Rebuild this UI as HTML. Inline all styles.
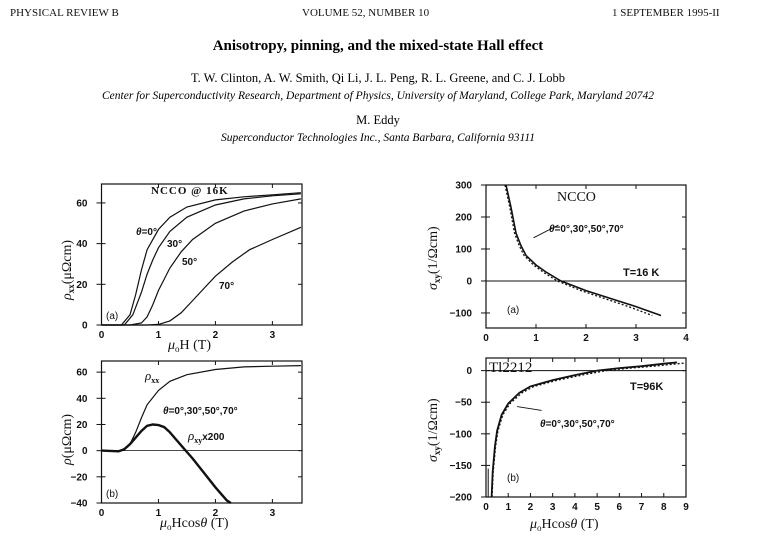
<!DOCTYPE html>
<html><head><meta charset="utf-8"><style>
body{margin:0;background:#fff;}
svg{display:block;font-family:"Liberation Serif",serif;}
.t{font-family:"Liberation Sans",sans-serif;font-size:10px;font-weight:bold;fill:#111;}
</style></head><body>
<svg id="pg" width="780" height="540" viewBox="0 0 780 540">
<g font-size="11" fill="#111">
<text x="10" y="16">PHYSICAL REVIEW B</text>
<text x="302" y="16">VOLUME 52, NUMBER 10</text>
<text x="612" y="16">1 SEPTEMBER 1995-II</text>
</g>
<text x="378" y="50" text-anchor="middle" font-size="15" font-weight="bold">Anisotropy, pinning, and the mixed-state Hall effect</text>
<text x="378" y="82" text-anchor="middle" font-size="12.5">T. W. Clinton, A. W. Smith, Qi Li, J. L. Peng, R. L. Greene, and C. J. Lobb</text>
<text x="378" y="99" text-anchor="middle" font-size="11.5" font-style="italic">Center for Superconductivity Research, Department of Physics, University of Maryland, College Park, Maryland 20742</text>
<text x="378" y="124" text-anchor="middle" font-size="12.5">M. Eddy</text>
<text x="378" y="141" text-anchor="middle" font-size="11.5" font-style="italic">Superconductor Technologies Inc., Santa Barbara, California 93111</text>
</svg>
<script>
// Panel A data
const aX0=[0,0.35,0.5,0.6,0.7,0.8,1.0,1.2,1.5,2,2.5,3,3.5];
const aY0=[0,0,5,15,27,37,47,53,58,61.5,63,64,65];
const aX30=[0,0.4,0.55,0.7,0.8,0.9,1.0,1.2,1.5,2,2.5,3,3.5];
const aY30=[0,0,5,16,25,32,38,46,53,59,62,63.5,64.5];
const aX50=[0,0.5,0.7,0.8,0.9,1.0,1.2,1.4,1.6,2,2.5,3,3.5];
const aY50=[0,0,1,4,10,17,28,36,42,50,56,59.5,62];
const aX70=[0,0.8,1.0,1.2,1.4,1.6,1.8,2.0,2.3,2.6,3,3.5];
const aY70=[0,0,0.3,2,6,12,18,24,31,37,42,48];
const aXTicks=[0,1,2,3];
const aYTicks=[0,20,40,60];
// Panel B data
const bXxx=[0,0.35,0.5,0.6,0.7,0.8,1.0,1.2,1.5,2,2.5,3,3.5];
const bYxx=[0,0,5,14,25,35,46,53,58,62,64,64.5,65];
const bXxy=[0,0.3,0.4,0.5,0.6,0.7,0.8,0.9,1.0,1.1,1.2,1.3,1.4,1.5,1.6,1.8,2.0,2.2,2.27];
const bYxy=[0,-0.5,1,5,10,15,19,20,19.5,18,14,9,4,-1,-6,-17,-28,-38,-40];
const bYTicks=[-40,-20,0,20,40,60];
// Panel C data
const cX=[0.4,0.5,0.6,0.7,0.8,1.0,1.2,1.5,2,2.5,3,3.5];
const cY=[300,230,150,110,80,50,28,0,-30,-55,-80,-108];
const cXTicks=[0,1,2,3,4];
const cYTicks=[-100,0,100,200,300];
// Panel D data
const dX=[0.25,0.3,0.4,0.5,0.7,1,1.5,2,3,4,5,6,7,8,8.6];
const dY=[-200,-160,-120,-95,-70,-52,-35,-25,-15,-7,0,4,7,11,13];
const dXTicks=[0,1,2,3,4,5,6,7,8,9];
const dYTicks=[-200,-150,-100,-50,0];

const NS="http://www.w3.org/2000/svg";
const svg=document.getElementById('pg');
function mk(tag,attrs,parent){const e=document.createElementNS(NS,tag);for(const k in attrs)e.setAttribute(k,attrs[k]);(parent||svg).appendChild(e);return e;}
function panel(name,L,R,T,B,xmin,xmax,ymin,ymax){
  const g=mk('g',{});
  
  
  const p={g,sx:v=>L+(v-xmin)/(xmax-xmin)*(R-L),sy:v=>B-(v-ymin)/(ymax-ymin)*(B-T),L,R,T,B};
  const f=mk('rect',{x:L,y:T,width:R-L,height:B-T,fill:'none',stroke:'#111','stroke-width':1.2},g);
  
  
  return p;
}
function ticks(p,xt,yt){
  xt.forEach(v=>{const x=p.sx(v);
    mk('line',{x1:x,x2:x,y1:p.B,y2:p.B-4,stroke:'#111'},p.g);mk('line',{x1:x,x2:x,y1:p.T,y2:p.T+4,stroke:'#111'},p.g);
    const t=mk('text',{x:x,y:p.B+13,'text-anchor':'middle',class:'t'},p.g);t.textContent=v;
    
    });
  yt.forEach(v=>{const y=p.sy(v);
    mk('line',{x1:p.L-5,x2:p.L+4,y1:y,y2:y,stroke:'#111'},p.g);mk('line',{x1:p.R,x2:p.R-4,y1:y,y2:y,stroke:'#111'},p.g);
    const t=mk('text',{x:p.L-14,y:y+3.5,'text-anchor':'end',class:'t'},p.g);t.textContent=String(v).replace('-','\u2212');
    
    });
}
function line(p,xs,ys,name,extra){
  const d=xs.map((x,i)=>(i?'L':'M')+p.sx(x).toFixed(1)+','+p.sy(ys[i]).toFixed(1)).join(' ');
  const e=mk('path',Object.assign({d,fill:'none',stroke:'#111','stroke-width':1.2},extra||{}),p.g);
  
  
  return e;
}
function txt(p,x,y,s,name,attrs){
  const t=mk('text',Object.assign({x,y,'font-size':12,fill:'#111'},attrs||{}),p.g);t.innerHTML=s;
  
  
  return t;
}
function clip(p,id){const c=mk('clipPath',{id},svg);mk('rect',{x:p.L,y:p.T,width:p.R-p.L,height:p.B-p.T},c);return 'url(#'+id+')';}

// Panel A
const A=panel('panel-a-rhoxx',101.5,302,184,325,0,3.52,0,69.3);
ticks(A,aXTicks,aYTicks);
line(A,aX0,aY0,'curve-theta-0');line(A,aX30,aY30,'curve-theta-30');line(A,aX50,aY50,'curve-theta-50');line(A,aX70,aY70,'curve-theta-70');
txt(A,151,194,'NCCO @ 16K','panel-a-title',{'font-size':11,'font-weight':'bold','letter-spacing':'1'});
txt(A,136,235,'<tspan font-style="italic">θ</tspan>=0°','label-theta-0',{'font-size':10,'font-weight':'bold','font-family':'Liberation Sans, sans-serif'});
txt(A,167,247,'30°','label-30',{'font-size':10,'font-weight':'bold','font-family':'Liberation Sans, sans-serif'});
txt(A,182,265,'50°','label-50',{'font-size':10,'font-weight':'bold','font-family':'Liberation Sans, sans-serif'});
txt(A,219,289,'70°','label-70',{'font-size':10,'font-weight':'bold','font-family':'Liberation Sans, sans-serif'});
txt(A,106,319,'(a)','panel-a-letter',{'font-size':10,'font-family':'Liberation Sans, sans-serif'});
txt(A,168,349,'<tspan font-style="italic">μ</tspan><tspan font-size="9" dy="3">o</tspan><tspan dy="-3">H  (T)</tspan>','x-axis-title-a',{'font-size':14});
txt(A,0,0,'<tspan font-style="italic">ρ</tspan><tspan font-size="9" dy="3" font-weight="bold">xx</tspan><tspan dy="-3">(μΩcm)</tspan>','y-axis-title-a',{'font-size':14,transform:'translate(71,300) rotate(-90)'});

// Panel B
const Bp=panel('panel-b-rho',101.5,302,361,503,0,3.52,-40,68.5);
ticks(Bp,aXTicks,bYTicks);
line(Bp,[0,3.52],[0,0],'zero-line-b',{'stroke-width':0.8});
line(Bp,bXxx,bYxx,'curve-rhoxx');
line(Bp,bXxy,bYxy,'curve-rhoxy-x200',{'stroke-width':2.4});
txt(Bp,145,380,'<tspan font-style="italic">ρ</tspan><tspan font-size="8" dy="3" font-weight="bold">xx</tspan>','label-rhoxx',{'font-size':13});
txt(Bp,163,414,'<tspan font-style="italic">θ</tspan>=0°,30°,50°,70°','label-angles-b',{'font-size':10,'font-weight':'bold','font-family':'Liberation Sans, sans-serif'});
txt(Bp,188,440,'<tspan font-style="italic">ρ</tspan><tspan font-size="8" dy="3" font-weight="bold">xy</tspan><tspan dy="-3" font-size="10" font-family="Liberation Sans, sans-serif" font-weight="bold">x200</tspan>','label-rhoxy',{'font-size':13});
txt(Bp,106,497,'(b)','panel-b-letter',{'font-size':10,'font-family':'Liberation Sans, sans-serif'});
txt(Bp,160,527,'<tspan font-style="italic">μ</tspan><tspan font-size="9" dy="3">o</tspan><tspan dy="-3">Hcos<tspan font-style="italic">θ</tspan>  (T)</tspan>','x-axis-title-b',{'font-size':14});
txt(Bp,0,0,'<tspan font-style="italic">ρ</tspan>(μΩcm)','y-axis-title-b',{'font-size':14,transform:'translate(71,465) rotate(-90)'});

// Panel C
const C=panel('panel-c-sigmaxy-ncco',486,686,185,328,0,4,-147,300);
ticks(C,cXTicks,cYTicks);
line(C,[0,4],[0,0],'zero-line-c',{'stroke-width':1});
line(C,cX,cY,'curve-sigmaxy-ncco',{'stroke-width':1.6,'clip-path':clip(C,'cc')});
line(C,cX.map(v=>v*0.95),cY,'curve-sigmaxy-ncco-dotted',{'stroke-width':1.3,'stroke-dasharray':'2 2','clip-path':'url(#cc)'});
txt(C,557,201,'NCCO','panel-c-title',{'font-size':14});
txt(C,549,232,'<tspan font-style="italic">θ</tspan>=0°,30°,50°,70°','label-angles-c',{'font-size':10,'font-weight':'bold','font-family':'Liberation Sans, sans-serif'});
line(C,[1.45,0.95],[175,135],'arrow-c',{'stroke-width':0.9});
txt(C,623,276,'T=16 K','label-temp-c',{'font-size':11,'font-weight':'bold','font-family':'Liberation Sans, sans-serif'});
txt(C,507,313,'(a)','panel-c-letter',{'font-size':10,'font-family':'Liberation Sans, sans-serif'});
txt(C,0,0,'<tspan font-style="italic">σ</tspan><tspan font-size="9" dy="3" font-weight="bold">xy</tspan><tspan dy="-3">(1/Ωcm)</tspan>','y-axis-title-c',{'font-size':14,transform:'translate(437,290) rotate(-90)'});

// Panel D
const D=panel('panel-d-sigmaxy-tl',486,686,358,497,0,9,-200,20);
ticks(D,dXTicks,dYTicks);
line(D,[0,9],[0,0],'zero-line-d',{'stroke-width':1});
line(D,dX,dY,'curve-sigmaxy-tl',{'stroke-width':1.8});
line(D,dX.map(v=>v*1.08),dY,'curve-sigmaxy-tl-dotted',{'stroke-width':1.3,'stroke-dasharray':'2 2','clip-path':clip(D,'cd')});
line(D,[0.1,0.1],[-200,-155],'spike-d',{'stroke-width':1});
txt(D,489,372,'Tl2212','panel-d-title',{'font-size':15});
txt(D,630,390,'T=96K','label-temp-d',{'font-size':11,'font-weight':'bold','font-family':'Liberation Sans, sans-serif'});
txt(D,540,427,'<tspan font-style="italic">θ</tspan>=0°,30°,50°,70°','label-angles-d',{'font-size':10,'font-weight':'bold','font-family':'Liberation Sans, sans-serif'});
line(D,[2.5,1.4],[-63,-57],'arrow-d',{'stroke-width':0.9});
txt(D,507,481,'(b)','panel-d-letter',{'font-size':10,'font-family':'Liberation Sans, sans-serif'});
txt(D,530,528,'<tspan font-style="italic">μ</tspan><tspan font-size="9" dy="3">o</tspan><tspan dy="-3">Hcos<tspan font-style="italic">θ</tspan>  (T)</tspan>','x-axis-title-d',{'font-size':14});
txt(D,0,0,'<tspan font-style="italic">σ</tspan><tspan font-size="9" dy="3" font-weight="bold">xy</tspan><tspan dy="-3">(1/Ωcm)</tspan>','y-axis-title-d',{'font-size':14,transform:'translate(437,462) rotate(-90)'});
</script>
</body></html>
